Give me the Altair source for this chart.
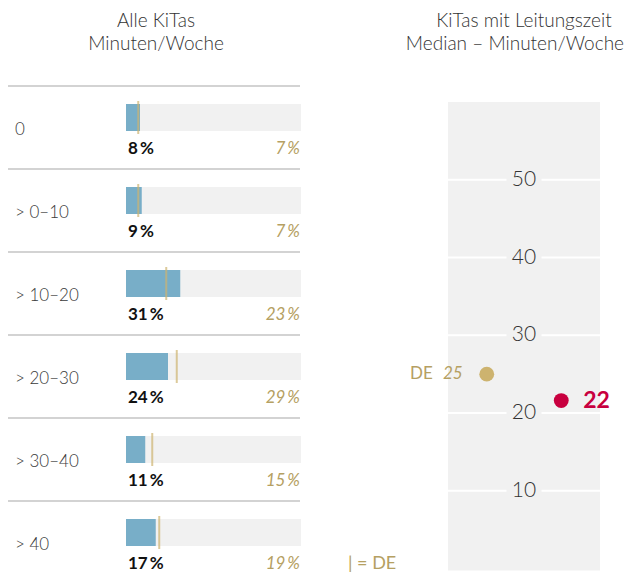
import altair as alt
import pandas as pd

# ---------------- data ----------------
categories = ["0", "> 0–10", "> 10–20", "> 20–30", "> 30–40", "> 40"]
alle_kitas = [8, 9, 31, 24, 11, 17]
de_values = [7, 7, 23, 29, 15, 19]

median_groups = ["DE", "KiTas mit Leitungszeit"]
median_values = [25, 21.6]
median_ticks = [10, 20, 30, 40, 50]

# ---------------- style ----------------
FONT = "Lato"
BLUE = "#78aec8"
TRACK = "#f1f1f1"
GOLD = "#cdb36f"
GOLD_TEXT = "#b5a062"
CRIMSON = "#c8003f"
GREY_TEXT = "#3a3a3a"
SEP = "#c4c4c4"

rows = pd.DataFrame({"cat": categories, "alle": alle_kitas, "de": de_values})
rows["alle_lbl"] = [f"{v}\u2009%" for v in alle_kitas]
rows["de_lbl"] = [f"{v}\u2009%" for v in de_values]

med = pd.DataFrame({"grp": median_groups, "val": median_values})
ticks = pd.DataFrame({"t": median_ticks})

row_scale = alt.Scale(type="band", domain=categories, range=[78, 576],
                      paddingInner=0, paddingOuter=0)
pct_scale = alt.Scale(domain=[0, 100], range=[118, 293])
panel_x = alt.Scale(domain=[0, 1], range=[440, 592])
med_y = alt.Scale(domain=[0, 60], range=[560.5, 94])
grp_x = alt.Scale(type="point", domain=median_groups, range=[440, 592], padding=0.52)


def yrow(**kw):
    return alt.Y("cat:N", scale=row_scale, axis=None, **kw)


one = pd.DataFrame({"a": [0]})
base_rows = alt.Chart(rows)

separators = base_rows.mark_rule(color=SEP, strokeWidth=1.5).encode(
    y=yrow(bandPosition=0), x=alt.value(-1), x2=alt.value(292)
)

tracks = base_rows.mark_bar(height=27, yOffset=-10, color=TRACK).encode(
    y=yrow(), x=alt.XDatum(0, scale=pct_scale, axis=None), x2=alt.X2Datum(100)
)

bars = base_rows.mark_bar(height=27, yOffset=-10, color=BLUE).encode(
    y=yrow(), x=alt.X("alle:Q", scale=pct_scale, axis=None), x2=alt.X2Datum(0)
)

de_ticks = base_rows.mark_tick(thickness=2, size=33, yOffset=-10, color=GOLD).encode(
    y=yrow(), x=alt.X("de:Q", scale=pct_scale, axis=None)
)

cat_labels = base_rows.mark_text(
    align="left", baseline="middle", font=FONT, fontSize=17, fontWeight=300,
    color=GREY_TEXT, yOffset=2
).encode(y=yrow(), x=alt.value(7), text="cat:N")

alle_labels = base_rows.mark_text(
    align="left", baseline="middle", font=FONT, fontSize=17, fontWeight="bold",
    color="#111111", yOffset=21.5, dx=2
).encode(y=yrow(), x=alt.XDatum(0, scale=pct_scale, axis=None), text="alle_lbl:N")

de_labels = base_rows.mark_text(
    align="right", baseline="middle", font=FONT, fontSize=17, fontWeight=400,
    fontStyle="italic", color=GOLD_TEXT, yOffset=21.5, dx=-1
).encode(y=yrow(), x=alt.XDatum(100, scale=pct_scale, axis=None), text="de_lbl:N")

title_style = dict(baseline="alphabetic", font=FONT, fontSize=19, fontWeight=300,
                   color="#333333", lineHeight=23.5)

title_left = alt.Chart(one).mark_text(align="center", **title_style).encode(
    x=alt.value(148), y=alt.value(18.5), text=alt.value(["Alle KiTas", "Minuten/Woche"])
)
title_right1 = alt.Chart(one).mark_text(align="center", **title_style).encode(
    x=alt.value(516), y=alt.value(18.5), text=alt.value("KiTas mit Leitungszeit")
)
title_right2 = alt.Chart(one).mark_text(align="right", **title_style).encode(
    x=alt.value(616), y=alt.value(42), text=alt.value("Median – Minuten/Woche")
)

legend = alt.Chart(one).mark_text(
    align="left", baseline="middle", font=FONT, fontSize=18, fontWeight=400,
    color=GOLD_TEXT
).encode(x=alt.value(340), y=alt.value(556), text=alt.value("| = DE"))

panel = alt.Chart(one).mark_rect(color=TRACK, y2Offset=2).encode(
    x=alt.XDatum(0, scale=panel_x, axis=None), x2=alt.X2Datum(1),
    y=alt.YDatum(60, scale=med_y, axis=None), y2=alt.Y2Datum(0)
)

grid_l = alt.Chart(ticks).mark_rule(color="white", strokeWidth=2).encode(
    x=alt.XDatum(0, scale=panel_x, axis=None), x2=alt.X2Datum(0.385),
    y=alt.Y("t:Q", scale=med_y, axis=None)
)
grid_r = alt.Chart(ticks).mark_rule(color="white", strokeWidth=2).encode(
    x=alt.XDatum(0.615, scale=panel_x, axis=None), x2=alt.X2Datum(1),
    y=alt.Y("t:Q", scale=med_y, axis=None)
)
tick_labels = alt.Chart(ticks).mark_text(
    align="center", baseline="middle", font=FONT, fontSize=21, fontWeight=300,
    color="#333333"
).encode(
    x=alt.XDatum(0.5, scale=panel_x, axis=None),
    y=alt.Y("t:Q", scale=med_y, axis=None), text="t:Q"
)

dots = alt.Chart(med).mark_circle(size=220, opacity=1).encode(
    x=alt.X("grp:N", scale=grp_x, axis=None),
    y=alt.Y("val:Q", scale=med_y, axis=None),
    color=alt.Color("grp:N", scale=alt.Scale(domain=median_groups, range=[GOLD, CRIMSON]),
                    legend=None)
)

de_med = alt.Chart(med).transform_filter(alt.datum.grp == "DE")
de_val_lbl = de_med.mark_text(
    align="right", baseline="middle", font=FONT, fontSize=17, fontWeight=400,
    fontStyle="italic", color=GOLD_TEXT, dx=-24
).encode(x=alt.X("grp:N", scale=grp_x, axis=None),
         y=alt.Y("val:Q", scale=med_y, axis=None), text=alt.Text("val:Q", format=".0f"))
de_name_lbl = de_med.mark_text(
    align="right", baseline="middle", font=FONT, fontSize=17, fontWeight=400,
    color=GOLD_TEXT, dx=-54
).encode(x=alt.X("grp:N", scale=grp_x, axis=None),
         y=alt.Y("val:Q", scale=med_y, axis=None), text="grp:N")

kita_lbl = alt.Chart(med).transform_filter(alt.datum.grp != "DE").mark_text(
    align="left", baseline="middle", font=FONT, fontSize=23, fontWeight="bold",
    color=CRIMSON, dx=22
).encode(x=alt.X("grp:N", scale=grp_x, axis=None),
         y=alt.Y("val:Q", scale=med_y, axis=None), text=alt.Text("val:Q", format=".0f"))

chart = alt.layer(
    separators, tracks, bars, de_ticks, cat_labels, alle_labels, de_labels,
    title_left, title_right1, title_right2, legend,
    panel, grid_l, grid_r, tick_labels, dots, de_val_lbl, de_name_lbl, kita_lbl
).resolve_scale(
    x="independent", y="independent", color="independent"
).properties(
    width=617, height=566, autosize=alt.AutoSizeParams(type="none"), padding=0
).configure_view(stroke=None)

chart.save("out.html", embed_options={"renderer": "svg", "actions": False})
